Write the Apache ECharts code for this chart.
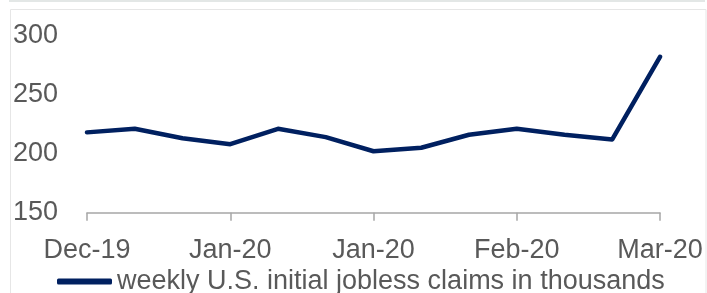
<!DOCTYPE html>
<html>
<head>
<meta charset="utf-8">
<script src="https://cdn.jsdelivr.net/npm/echarts@6/dist/echarts.min.js"></script>
<style>
  html, body { margin: 0; padding: 0; background: #fff; }
  #chart { width: 707px; height: 293px; }
</style>
</head>
<body>
<div id="chart"></div>
<script>
const categories = ['Dec-19', 'w2', 'w3', 'Jan-20', 'w5', 'w6', 'Jan-20', 'w8', 'w9', 'Feb-20', 'w11', 'w12', 'Mar-20']
const claims = [218, 221, 213, 208, 221, 214, 202, 205, 216, 221, 216, 212, 282]
const yTicks = [150, 200, 250, 300]
const seriesName = 'weekly U.S. initial jobless claims in thousands'

const navy = '#002060'
const gray = '#595959'
const font = '"Liberation Sans", Arial, sans-serif'

const chart = echarts.init(document.getElementById('chart'), null, { renderer: 'canvas' })

chart.setOption({
  animation: false,
  backgroundColor: '#fff',
  graphic: [
    { type: 'rect', shape: { x: 9, y: 0, width: 696, height: 2 }, style: { fill: '#e3e7e6' } },
    { type: 'rect', shape: { x: 10.5, y: 9.5, width: 695.5, height: 300 }, style: { fill: 'none', stroke: '#e6e6e6', lineWidth: 1 } },
  ],
  grid: { left: 87, right: 47, top: 35.5, height: 177.2 },
  legend: {
    left: 57,
    top: 268,
    padding: 0,
    itemWidth: 55,
    itemHeight: 6,
    itemGap: 5,
    icon: 'roundRect',
    textStyle: { fontFamily: font, fontSize: 27, color: gray, padding: [0, 0, 0, 0] },
    data: [{ name: seriesName, itemStyle: { color: navy } }],
  },
  xAxis: {
    type: 'category',
    data: categories,
    boundaryGap: false,
    axisLine: { lineStyle: { color: '#a6a6a6', width: 1.5 } },
    axisTick: { interval: 2, length: 8, lineStyle: { color: '#a6a6a6', width: 1.5 } },
    axisLabel: { interval: 2, margin: 24, fontFamily: font, fontSize: 27, color: gray },
  },
  yAxis: {
    type: 'value',
    min: yTicks[0],
    max: yTicks[yTicks.length - 1],
    interval: 50,
    axisLine: { show: false },
    axisTick: { show: false },
    splitLine: { show: false },
    axisLabel: { margin: 29, fontFamily: font, fontSize: 27, color: gray },
  },
  series: [{
    name: seriesName,
    type: 'line',
    data: claims,
    symbol: 'none',
    lineStyle: { color: navy, width: 4.5, cap: 'round', join: 'round' },
    itemStyle: { color: navy },
  }],
})
</script>
</body>
</html>
